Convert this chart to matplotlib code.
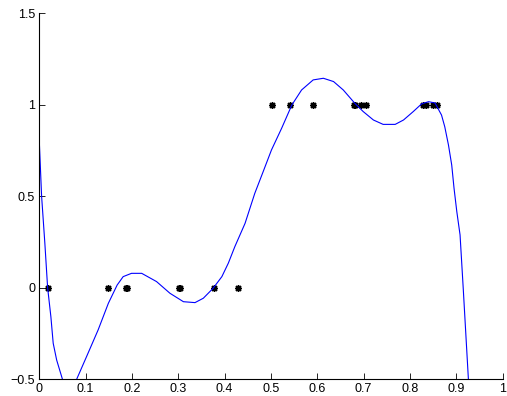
import matplotlib
matplotlib.use("Agg")
import matplotlib.pyplot as plt

plt.rcParams['font.family'] = ['Liberation Sans', 'DejaVu Sans']

# Observed samples (label 0 / label 1)
x_zero = [0.0187, 0.149, 0.187, 0.190, 0.302, 0.304, 0.378, 0.428]
y_zero = [0, 0, 0, 0, 0, 0, 0, 0]
x_one = [0.503, 0.542, 0.591, 0.679, 0.681, 0.694, 0.706, 0.829, 0.835, 0.850, 0.859]
y_one = [1, 1, 1, 1, 1, 1, 1, 1, 1, 1, 1]

# Fitted curve
curve_x = [0.000, 0.005, 0.012, 0.018, 0.025, 0.030, 0.0375, 0.050, 0.065,
           0.0806, 0.102, 0.127, 0.149, 0.168, 0.181, 0.199, 0.221, 0.253,
           0.282, 0.311, 0.336, 0.354, 0.375, 0.394, 0.408, 0.422, 0.444,
           0.465, 0.483, 0.501, 0.523, 0.545, 0.566, 0.591, 0.613,
           0.635, 0.656, 0.681, 0.699, 0.721, 0.742, 0.768, 0.786, 0.807,
           0.825, 0.840, 0.854, 0.868, 0.875, 0.883, 0.890, 0.895, 0.901,
           0.908, 0.915, 0.926, 0.930]
curve_y = [0.80, 0.50, 0.243, 0.0, -0.158, -0.303, -0.395, -0.50, -0.60,
           -0.50, -0.376, -0.23, -0.085, 0.015, 0.061, 0.079, 0.079, 0.034,
           -0.030, -0.076, -0.081, -0.057, -0.003, 0.061, 0.135, 0.225, 0.352,
           0.516, 0.634, 0.753, 0.872, 0.999, 1.081, 1.136, 1.145,
           1.127, 1.081, 1.008, 0.963, 0.917, 0.893, 0.893, 0.917, 0.963,
           1.005, 1.017, 1.010, 0.944, 0.880, 0.780, 0.671, 0.544, 0.416,
           0.289, -0.01, -0.50, -0.70]

x_ticks = [0, 0.1, 0.2, 0.3, 0.4, 0.5, 0.6, 0.7, 0.8, 0.9, 1]
x_tick_labels = ['0', '0.1', '0.2', '0.3', '0.4', '0.5', '0.6', '0.7', '0.8', '0.9', '1']
y_ticks = [-0.5, 0, 0.5, 1, 1.5]
y_tick_labels = ['\u22120.5', '0', '0.5', '1', '1.5']

fig = plt.figure(figsize=(5.07, 3.96), dpi=100)
ax = fig.add_axes([0.0775, 0.0422, 0.914, 0.9242])

asterisk = (8, 2, 0)
ax.plot(x_zero, y_zero, linestyle='none', marker=asterisk, color='black',
        markersize=5, markeredgewidth=1.0)
ax.plot(x_one, y_one, linestyle='none', marker=asterisk, color='black',
        markersize=5, markeredgewidth=1.0)
ax.plot(curve_x, curve_y, color=(0, 0, 1), linewidth=0.8)

ax.set_xlim(0, 1)
ax.set_ylim(-0.5, 1.5)
ax.set_xticks(x_ticks)
ax.set_xticklabels(x_tick_labels)
ax.set_yticks(y_ticks)
ax.set_yticklabels(y_tick_labels)
ax.tick_params(direction='in', length=4, width=0.6, labelsize=9, pad=3)
ax.spines['top'].set_visible(False)
ax.spines['right'].set_visible(False)
for s in ('left', 'bottom'):
    ax.spines[s].set_linewidth(0.8)

fig.savefig('out.png', dpi=100)
